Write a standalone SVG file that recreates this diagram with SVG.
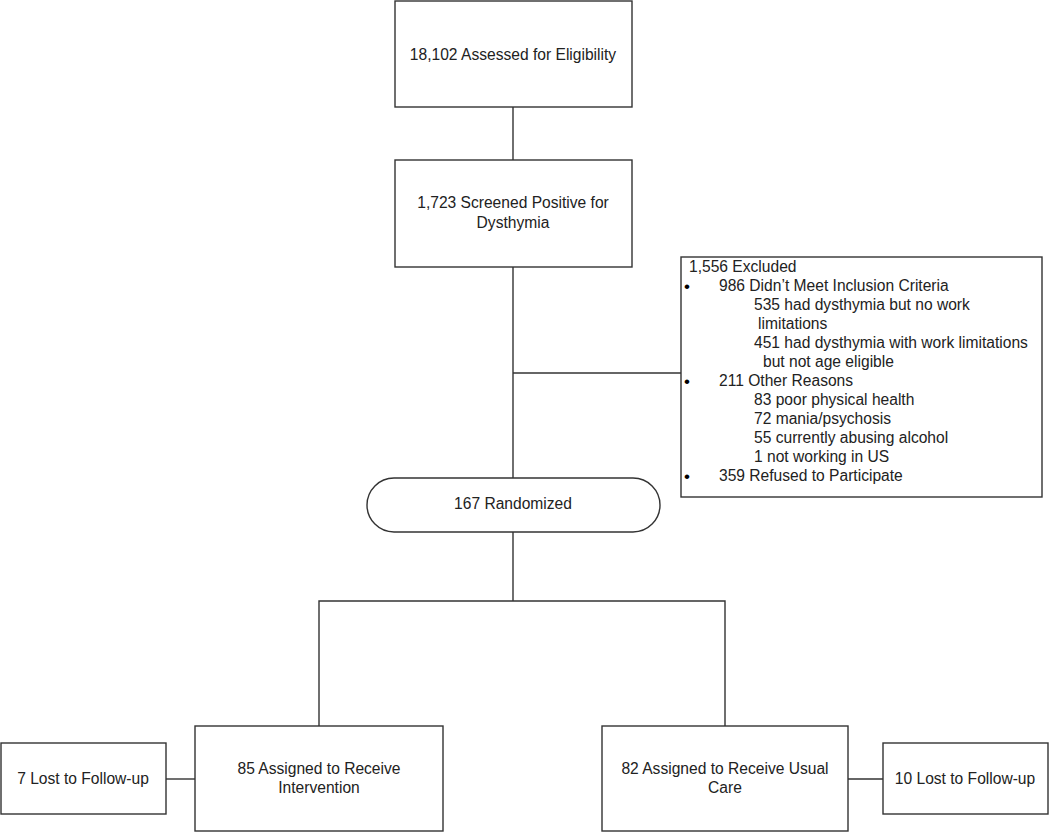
<svg xmlns="http://www.w3.org/2000/svg" width="1050" height="833" viewBox="0 0 1050 833">
<style>
.box{fill:#fff;stroke:#333;stroke-width:1.4}
.ln{fill:none;stroke:#333;stroke-width:1.4}
text{font-family:"Liberation Sans",Arial,sans-serif;font-size:15.6px;fill:#222}
.c{text-anchor:middle}
.b{font-size:17px;fill:#000}
</style>
<rect width="1050" height="833" fill="#fff"/>
<g id="connectors">
<line class="ln" x1="513" y1="107" x2="513" y2="160"/>
<line class="ln" x1="513" y1="267" x2="513" y2="478"/>
<line class="ln" x1="513" y1="373" x2="681" y2="373"/>
<line class="ln" x1="513" y1="532" x2="513" y2="601"/>
<polyline class="ln" points="319,726 319,601 725,601 725,726"/>
<line class="ln" x1="166" y1="779" x2="195" y2="779"/>
<line class="ln" x1="848" y1="779" x2="883" y2="779"/>
</g>
<g id="assessed">
<rect class="box" x="395" y="1" width="237" height="106"/>
<text class="c" x="513" y="60">18,102 Assessed for Eligibility</text>
</g>
<g id="screened">
<rect class="box" x="395" y="160" width="237" height="107"/>
<text class="c" x="513" y="208">1,723 Screened Positive for</text>
<text class="c" x="513" y="228">Dysthymia</text>
</g>
<g id="excluded">
<rect class="box" x="681" y="257" width="361" height="240"/>
<text x="689" y="272">1,556 Excluded</text>
<text class="b" x="684" y="292">•</text>
<text x="719" y="291">986 Didn’t Meet Inclusion Criteria</text>
<text x="754" y="310">535 had dysthymia but no work</text>
<text x="758" y="329">limitations</text>
<text x="754" y="348">451 had dysthymia with work limitations</text>
<text x="763" y="367">but not age eligible</text>
<text class="b" x="684" y="387">•</text>
<text x="719" y="386">211 Other Reasons</text>
<text x="754" y="405">83 poor physical health</text>
<text x="754" y="424">72 mania/psychosis</text>
<text x="754" y="443">55 currently abusing alcohol</text>
<text x="754" y="462">1 not working in US</text>
<text class="b" x="684" y="482">•</text>
<text x="719" y="481">359 Refused to Participate</text>
</g>
<g id="randomized">
<rect class="box" x="367" y="478" width="293" height="54" rx="27" ry="27"/>
<text class="c" x="513" y="509">167 Randomized</text>
</g>
<g id="intervention">
<rect class="box" x="195" y="726" width="248" height="105"/>
<text class="c" x="319" y="774">85 Assigned to Receive</text>
<text class="c" x="319" y="793">Intervention</text>
</g>
<g id="lost1">
<rect class="box" x="1" y="743" width="165" height="71"/>
<text class="c" x="83" y="784">7 Lost to Follow-up</text>
</g>
<g id="usualcare">
<rect class="box" x="602" y="726" width="246" height="105"/>
<text class="c" x="725" y="774">82 Assigned to Receive Usual</text>
<text class="c" x="725" y="793">Care</text>
</g>
<g id="lost2">
<rect class="box" x="883" y="743" width="165" height="71"/>
<text class="c" x="965" y="784">10 Lost to Follow-up</text>
</g>
</svg>
